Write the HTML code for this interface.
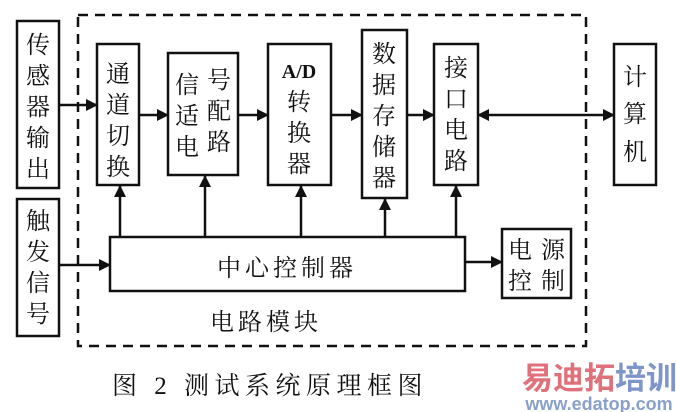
<!DOCTYPE html>
<html><head><meta charset="utf-8"><style>
html,body{margin:0;padding:0;background:#fff;}
svg{display:block;}
text{font-family:"Liberation Serif","Noto Serif CJK SC","Noto Sans CJK SC",serif;fill:#111;}
</style></head><body>
<svg width="676" height="412" viewBox="0 0 676 412" xmlns="http://www.w3.org/2000/svg">
<defs>
<marker id="a" markerWidth="12" markerHeight="12" refX="11" refY="6" orient="auto" markerUnits="userSpaceOnUse">
<path d="M0,0 L12,6 L0,12 z" fill="#111"/></marker>
<marker id="b" markerWidth="12" markerHeight="12" refX="1" refY="6" orient="auto" markerUnits="userSpaceOnUse">
<path d="M12,0 L0,6 L12,12 z" fill="#111"/></marker>
</defs>
<g fill="none" stroke="#111" stroke-width="2.5">
<rect x="78" y="15" width="508" height="331" stroke-dasharray="10,7"/>
<rect x="17" y="21" width="42" height="167"/>
<rect x="17" y="199" width="42" height="137"/>
<rect x="97" y="44" width="42" height="141"/>
<rect x="168" y="53" width="70" height="122"/>
<rect x="268" y="44" width="63" height="141"/>
<rect x="362" y="30" width="45" height="168"/>
<rect x="434" y="44" width="44" height="141"/>
<rect x="614" y="44" width="42" height="141"/>
<rect x="110" y="237" width="355" height="54"/>
<rect x="502" y="229" width="69" height="69"/>
</g>
<g stroke="#111" stroke-width="2.5" fill="none">
<line x1="59" y1="105" x2="97" y2="105" marker-end="url(#a)"/>
<line x1="139" y1="115" x2="168" y2="115" marker-end="url(#a)"/>
<line x1="238" y1="115" x2="268" y2="115" marker-end="url(#a)"/>
<line x1="331" y1="115" x2="362" y2="115" marker-end="url(#a)"/>
<line x1="407" y1="115" x2="434" y2="115" marker-end="url(#a)"/>
<line x1="478" y1="115" x2="614" y2="115" marker-start="url(#b)" marker-end="url(#a)"/>
<line x1="59" y1="265" x2="110" y2="265" marker-end="url(#a)"/>
<line x1="465" y1="262" x2="502" y2="262" marker-end="url(#a)"/>
<line x1="120" y1="237" x2="120" y2="186" marker-end="url(#a)"/>
<line x1="205" y1="237" x2="205" y2="176" marker-end="url(#a)"/>
<line x1="301" y1="237" x2="301" y2="186" marker-end="url(#a)"/>
<line x1="385" y1="237" x2="385" y2="199" marker-end="url(#a)"/>
<line x1="456" y1="237" x2="456" y2="186" marker-end="url(#a)"/>
</g>
<g font-size="24" text-anchor="middle">
<text x="38" y="53">传</text><text x="38" y="84">感</text><text x="38" y="115">器</text><text x="38" y="146">输</text><text x="38" y="177">出</text>
<text x="38" y="229">触</text><text x="38" y="260">发</text><text x="38" y="291">信</text><text x="38" y="322">号</text>
<text x="118" y="82">通</text><text x="118" y="113">道</text><text x="118" y="144">切</text><text x="118" y="175">换</text>
<text x="187" y="93">信</text><text x="219" y="88">号</text>
<text x="187" y="124">适</text><text x="219" y="119">配</text>
<text x="187" y="155">电</text><text x="219" y="150">路</text>
<text x="299" y="78" font-size="20" font-weight="bold">A/D</text>
<text x="299" y="110">转</text><text x="299" y="141">换</text><text x="299" y="172">器</text>
<text x="384" y="62">数</text><text x="384" y="93">据</text><text x="384" y="124">存</text><text x="384" y="155">储</text><text x="384" y="186">器</text>
<text x="456" y="76">接</text><text x="456" y="107">口</text><text x="456" y="138">电</text><text x="456" y="169">路</text>
<text x="635" y="85">计</text><text x="635" y="122">算</text><text x="635" y="160">机</text>
<text x="520" y="258">电</text><text x="553" y="258">源</text>
<text x="520" y="289">控</text><text x="553" y="289">制</text>
</g>
<text x="287" y="276" font-size="24" text-anchor="middle" letter-spacing="4">中心控制器</text>
<text x="266" y="330" font-size="24" text-anchor="middle" letter-spacing="4">电路模块</text>
<text x="112" y="394" font-size="25" letter-spacing="5.5">图 2  测试系统原理框图</text>
<text x="522" y="389" font-size="31" font-weight="bold" style="fill:#e0707a;font-family:'Noto Sans CJK SC',sans-serif">易迪拓<tspan style="fill:#7d95c8">培训</tspan></text>
<text x="599" y="410" font-size="18" font-weight="bold" text-anchor="middle" style="fill:#8aa0cc;font-family:'Liberation Sans',sans-serif">www.edatop.com</text>
</svg>
</body></html>
